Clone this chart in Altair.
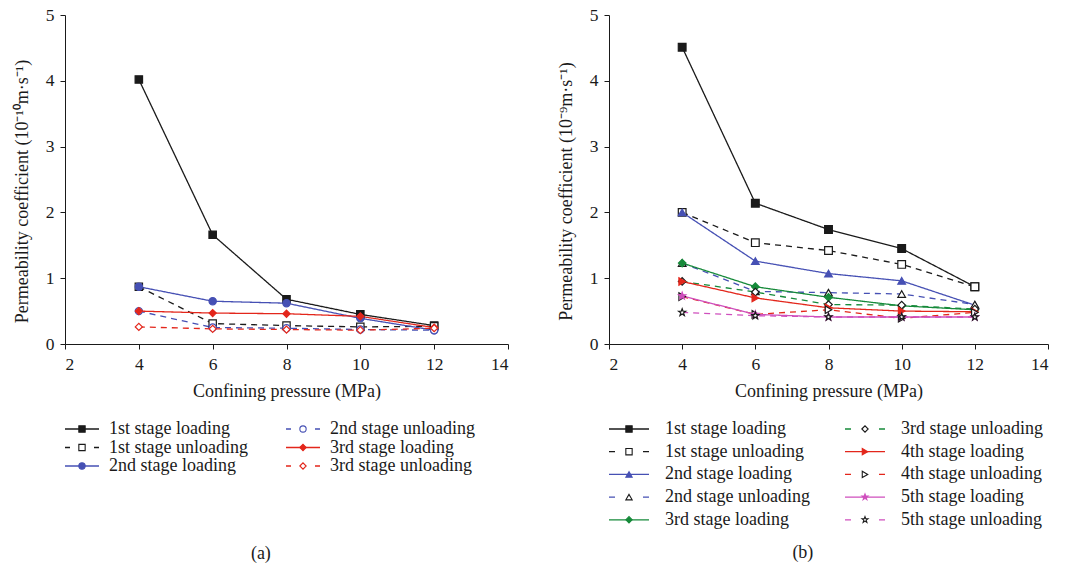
import altair as alt
import pandas as pd

FONT = "Liberation Serif"

pressure = [4, 6, 8, 10, 12]

# ---------- panel (a) ----------
a_names = ["1st stage loading", "1st stage unloading", "2nd stage loading",
           "2nd stage unloading", "3rd stage loading", "3rd stage unloading"]
a_1L = [4.02, 1.66, 0.68, 0.45, 0.28]
a_1U = [0.87, 0.31, 0.28, 0.26, 0.27]
a_2L = [0.87, 0.65, 0.62, 0.39, 0.21]
a_2U = [0.50, 0.25, 0.24, 0.22, 0.21]
a_3L = [0.50, 0.47, 0.46, 0.42, 0.25]
a_3U = [0.26, 0.23, 0.22, 0.21, 0.24]
a_series = [a_1L, a_1U, a_2L, a_2U, a_3L, a_3U]

# ---------- panel (b) ----------
b_names = ["1st stage loading", "1st stage unloading", "2nd stage loading",
           "2nd stage unloading", "3rd stage loading", "3rd stage unloading",
           "4th stage loading", "4th stage unloading", "5th stage loading",
           "5th stage unloading"]
b_1L = [4.51, 2.14, 1.74, 1.45, 0.87]
b_1U = [2.00, 1.54, 1.42, 1.21, 0.87]
b_2L = [2.00, 1.26, 1.07, 0.96, 0.59]
b_2U = [1.23, 0.80, 0.78, 0.76, 0.60]
b_3L = [1.23, 0.87, 0.71, 0.58, 0.52]
b_3U = [0.95, 0.79, 0.60, 0.59, 0.53]
b_4L = [0.95, 0.70, 0.55, 0.50, 0.49]
b_4U = [0.72, 0.45, 0.52, 0.39, 0.48]
b_5L = [0.73, 0.45, 0.41, 0.41, 0.41]
b_5U = [0.48, 0.43, 0.41, 0.41, 0.41]
b_series = [b_1L, b_1U, b_2L, b_2U, b_3L, b_3U, b_4L, b_4U, b_5L, b_5U]

BLACK = "#1a1a1a"
BLUE = "#4650b4"
RED = "#e3261b"
GREEN = "#168a3a"
PINK = "#cf4fbd"
WHITE = "#ffffff"
STAR = "M0,-1L0.24,-0.33L0.95,-0.31L0.38,0.12L0.59,0.81L0,0.4L-0.59,0.81L-0.38,0.12L-0.95,-0.31L-0.24,-0.33Z"

SOLID = [1, 0]
DASH = [6, 5]

a_style = dict(
    line=[BLACK, BLACK, BLUE, BLUE, RED, RED],
    dash=[SOLID, DASH, SOLID, DASH, SOLID, DASH],
    shape=["square", "square", "circle", "circle", "diamond", "diamond"],
    fill=[BLACK, WHITE, BLUE, WHITE, RED, WHITE],
    stroke=[BLACK, BLACK, BLUE, BLUE, RED, RED],
    size=[55, 50, 75, 55, 95, 75],
)
b_style = dict(
    line=[BLACK, BLACK, BLUE, BLUE, GREEN, GREEN, RED, RED, PINK, PINK],
    dash=[SOLID, DASH] * 5,
    shape=["square", "square", "triangle-up", "triangle-up", "diamond", "diamond",
           "triangle-right", "triangle-right", STAR, STAR],
    fill=[BLACK, WHITE, BLUE, WHITE, GREEN, WHITE, RED, WHITE, PINK, WHITE],
    stroke=[BLACK, BLACK, BLUE, BLACK, GREEN, BLACK, RED, BLACK, PINK, BLACK],
    size=[60, 55, 85, 65, 95, 75, 85, 65, 95, 60],
)


def panel(names, series, style, ytitle, width, height, nrows, col_gap,
          row_top, row_gap, line_len, text_off, leg_dash, label, label_offset):
    rows = []
    for name, vals in zip(names, series):
        for p, v in zip(pressure, vals):
            rows.append({"series": name, "pressure": p, "k": v})
    df = pd.DataFrame(rows)

    leg = pd.DataFrame({
        "series": names,
        "col": [i // nrows for i in range(len(names))],
        "row": [i % nrows for i in range(len(names))],
        "unloading": ["unloading" in n for n in names],
    })

    color = alt.Color("series:N", scale=alt.Scale(domain=names, range=style["line"]), legend=None)
    dash = alt.StrokeDash("series:N", scale=alt.Scale(domain=names, range=style["dash"]), legend=None)
    shape = alt.Shape("series:N", scale=alt.Scale(domain=names, range=style["shape"]), legend=None)
    fill = alt.Fill("series:N", scale=alt.Scale(domain=names, range=style["fill"]), legend=None)
    stroke = alt.Stroke("series:N", scale=alt.Scale(domain=names, range=style["stroke"]), legend=None)
    size = alt.Size("series:N", scale=alt.Scale(domain=names, range=style["size"]), legend=None)

    x = alt.X("pressure:Q", scale=alt.Scale(domain=[2, 14], nice=False),
              axis=alt.Axis(values=[2, 4, 6, 8, 10, 12, 14], title="Confining pressure (MPa)",
                            labelPadding=6, titlePadding=10))
    y = alt.Y("k:Q", scale=alt.Scale(domain=[0, 5], nice=False),
              axis=alt.Axis(values=[0, 1, 2, 3, 4, 5], title=ytitle, titleY=176,
                            labelPadding=6, titlePadding=14))

    base = alt.Chart(df)
    lines = base.mark_line(strokeWidth=1.3).encode(
        x=x, y=y, color=color, strokeDash=dash, detail="series:N")
    points = base.mark_point(filled=True, opacity=1, strokeWidth=1.2).encode(
        x=x, y=y, shape=shape, fill=fill, stroke=stroke, size=size)
    plot = alt.layer(lines, points)

    lx = alt.X("col:Q", scale=alt.Scale(domain=[0, 1], range=[0, col_gap]), axis=None)
    ly = alt.Y("row:Q", scale=alt.Scale(domain=[0, nrows - 1],
                                        range=[row_top, row_top + row_gap * (nrows - 1)]), axis=None)
    lbase = alt.Chart(leg)
    lrule_solid = lbase.transform_filter("!datum.unloading").mark_rule(
        strokeWidth=1.3, x2Offset=line_len).encode(x=lx, x2="col:Q", y=ly, color=color)
    lrule_dash = lbase.transform_filter("datum.unloading").mark_rule(
        strokeWidth=1.3, x2Offset=line_len, strokeDash=leg_dash).encode(
        x=lx, x2="col:Q", y=ly, color=color)
    lpt = lbase.mark_point(filled=True, opacity=1, strokeWidth=1.1, size=40,
                           xOffset=line_len / 2).encode(
        x=lx, y=ly, shape=shape, fill=fill, stroke=stroke)
    ltxt = lbase.mark_text(align="left", baseline="middle", dx=text_off, font=FONT,
                           fontSize=18, color=BLACK).encode(x=lx, y=ly, text="series:N")
    legend = alt.layer(lrule_solid, lrule_dash, lpt, ltxt)

    return alt.layer(plot, legend).resolve_scale(x="independent", y="independent").properties(
        width=width, height=height,
        title=alt.TitleParams(label, orient="bottom", offset=label_offset, fontSize=18,
                              font=FONT, fontWeight="normal", color=BLACK,
                              anchor="middle", frame="bounds"))


left = panel(a_names, a_series, a_style, "Permeability coefficient (10⁻¹⁰m·s⁻¹)",
             443, 329, 3, 221, 414, 18.5, 34, 44, [5, 24], "(a)", 70)
right = panel(b_names, b_series, b_style, "Permeability coefficient (10⁻⁹m·s⁻¹)",
              439, 329, 5, 236, 414, 22.7, 40, 56, [6, 28], "(b)", 15)

chart = alt.hconcat(left, right, spacing=48).resolve_scale(
    color="independent", shape="independent", strokeDash="independent",
    fill="independent", stroke="independent", size="independent"
).properties(
    padding={"left": 13, "top": 6, "right": 5, "bottom": 5}
).configure_view(stroke=None).configure_axis(
    grid=False, domainColor=BLACK, tickColor=BLACK, labelColor=BLACK, titleColor=BLACK,
    labelFont=FONT, titleFont=FONT, labelFontSize=17.5, titleFontSize=18,
    titleFontWeight="normal", tickSize=5, domainWidth=1, tickWidth=1
)

chart.save("out.html", embed_options={"renderer": "svg", "actions": False})
